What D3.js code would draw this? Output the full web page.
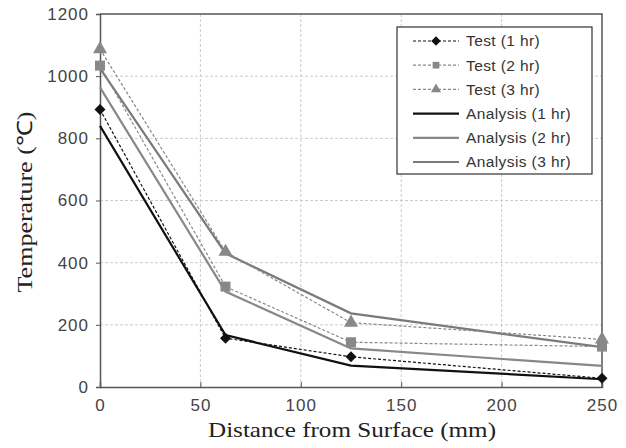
<!DOCTYPE html>
<html>
<head>
<meta charset="utf-8">
<script src="https://cdn.jsdelivr.net/npm/d3@7"></script>
<style>
  body { margin: 0; background: #fff; }
  .tick text { font-family: Arial, "Liberation Sans", sans-serif; font-size: 17px; fill: #444; letter-spacing: 1px; }
  .axis-title { font-family: "Liberation Serif", "Times New Roman", serif; font-size: 21px; fill: #222; }
  .legend text { font-family: Arial, "Liberation Sans", sans-serif; font-size: 15.5px; fill: #333; letter-spacing: 0.4px; }
</style>
</head>
<body>
<div id="chart"></div>
<script>
// distances (mm)
const distances = [0, 62.5, 125, 250];

const test1 = [893, 157, 97, 28];
const test2 = [1034, 323, 144, 130];
const test3 = [1087, 435, 207, 153];
const analysis1 = [840, 167, 69, 25];
const analysis2 = [964, 307, 124, 68];
const analysis3 = [1025, 430, 237, 128];

const xTicks = [0, 50, 100, 150, 200, 250];
const yTicks = [0, 200, 400, 600, 800, 1000, 1200];

const series = [
  {name: "Test (1 hr)", values: test1, color: "#111", dashed: true, marker: "diamond"},
  {name: "Test (2 hr)", values: test2, color: "#888", dashed: true, marker: "square"},
  {name: "Test (3 hr)", values: test3, color: "#888", dashed: true, marker: "triangle"},
  {name: "Analysis (1 hr)", values: analysis1, color: "#111", dashed: false},
  {name: "Analysis (2 hr)", values: analysis2, color: "#888", dashed: false},
  {name: "Analysis (3 hr)", values: analysis3, color: "#7a7a7a", dashed: false}
];

const width = 626, height = 448;
const margin = {top: 14, right: 24, bottom: 61, left: 100};

const svg = d3.select("#chart").append("svg")
  .attr("width", width)
  .attr("height", height);

const x = d3.scaleLinear().domain([0, 250]).range([margin.left, width - margin.right]);
const y = d3.scaleLinear().domain([0, 1200]).range([height - margin.bottom, margin.top]);

// grid
svg.append("g").selectAll("line")
  .data(xTicks.slice(1, -1))
  .enter().append("line")
  .attr("x1", d => x(d)).attr("x2", d => x(d))
  .attr("y1", y(0)).attr("y2", y(1200))
  .attr("stroke", "#ccc").attr("stroke-dasharray", "3,2");

svg.append("g").selectAll("line")
  .data(yTicks.slice(1, -1))
  .enter().append("line")
  .attr("x1", x(0)).attr("x2", x(250))
  .attr("y1", d => y(d)).attr("y2", d => y(d))
  .attr("stroke", "#ccc").attr("stroke-dasharray", "3,2");

// frame top/right
svg.append("path")
  .attr("d", `M${x(0)},${y(1200)}H${x(250)}V${y(0)}`)
  .attr("fill", "none").attr("stroke", "#555").attr("stroke-width", 1.5);

// axes
const xAxis = svg.append("g")
  .attr("transform", `translate(0,${y(0)})`)
  .call(d3.axisBottom(x).tickValues(xTicks).tickFormat(d3.format("d")).tickSize(-5).tickPadding(12));
const yAxis = svg.append("g")
  .attr("transform", `translate(${x(0)},0)`)
  .call(d3.axisLeft(y).tickValues(yTicks).tickFormat(d3.format("d")).tickSize(4).tickPadding(7));
[xAxis, yAxis].forEach(a => {
  a.select(".domain").attr("stroke", "#555").attr("stroke-width", 1.5);
  a.selectAll(".tick line").attr("stroke", "#555");
});

// lines
const line = d3.line()
  .x((d, i) => x(distances[i]))
  .y(d => y(d));

const sym = {
  diamond: d3.symbol().type(d3.symbolSquare).size(60),
  square: d3.symbol().type(d3.symbolSquare).size(100),
  triangle: d3.symbol().type(d3.symbolTriangle).size(85)
};
const rot = {diamond: 45, square: 0, triangle: 0};

// draw analysis first then tests on top
const order = [3, 4, 5, 0, 1, 2];
order.forEach(k => {
  const s = series[k];
  svg.append("path")
    .datum(s.values)
    .attr("d", line)
    .attr("fill", "none")
    .attr("stroke", s.color)
    .attr("stroke-width", s.dashed ? 1.2 : 2.2)
    .attr("stroke-dasharray", s.dashed ? "3,2" : null);
  if (s.marker) {
    svg.append("g").selectAll("path")
      .data(s.values)
      .enter().append("path")
      .attr("d", sym[s.marker])
      .attr("transform", (d, i) => `translate(${x(distances[i])},${y(d)}) rotate(${rot[s.marker]})`)
      .attr("fill", s.color);
  }
});

// legend
const legend = svg.append("g").attr("class", "legend");
legend.append("rect")
  .attr("x", 397).attr("y", 27)
  .attr("width", 195).attr("height", 147)
  .attr("fill", "#fff").attr("stroke", "#333").attr("stroke-width", 1.2);

series.forEach((s, i) => {
  const ly = 41 + i * 24.2;
  const g = legend.append("g");
  g.append("line")
    .attr("x1", 413).attr("x2", 459)
    .attr("y1", ly).attr("y2", ly)
    .attr("stroke", s.color)
    .attr("stroke-width", s.dashed ? 1.2 : 2.2)
    .attr("stroke-dasharray", s.dashed ? "3,2" : null);
  if (s.marker) {
    g.append("path")
      .attr("d", d3.symbol().type(s.marker === "triangle" ? d3.symbolTriangle : d3.symbolSquare).size(45))
      .attr("transform", `translate(436,${ly}) rotate(${rot[s.marker]})`)
      .attr("fill", s.color);
  }
  g.append("text")
    .attr("x", 466)
    .attr("y", ly)
    .attr("dy", "0.35em")
    .text(s.name);
});

// axis titles
svg.append("text")
  .attr("class", "axis-title")
  .attr("x", 352)
  .attr("y", 437)
  .attr("text-anchor", "middle")
  .attr("textLength", 288)
  .attr("lengthAdjust", "spacingAndGlyphs")
  .text("Distance from Surface (mm)");

svg.append("text")
  .attr("class", "axis-title")
  .attr("transform", `translate(32,202) rotate(-90)`)
  .attr("text-anchor", "middle")
  .attr("textLength", 181)
  .attr("lengthAdjust", "spacingAndGlyphs")
  .text("Temperature (℃)");
</script>
</body>
</html>
